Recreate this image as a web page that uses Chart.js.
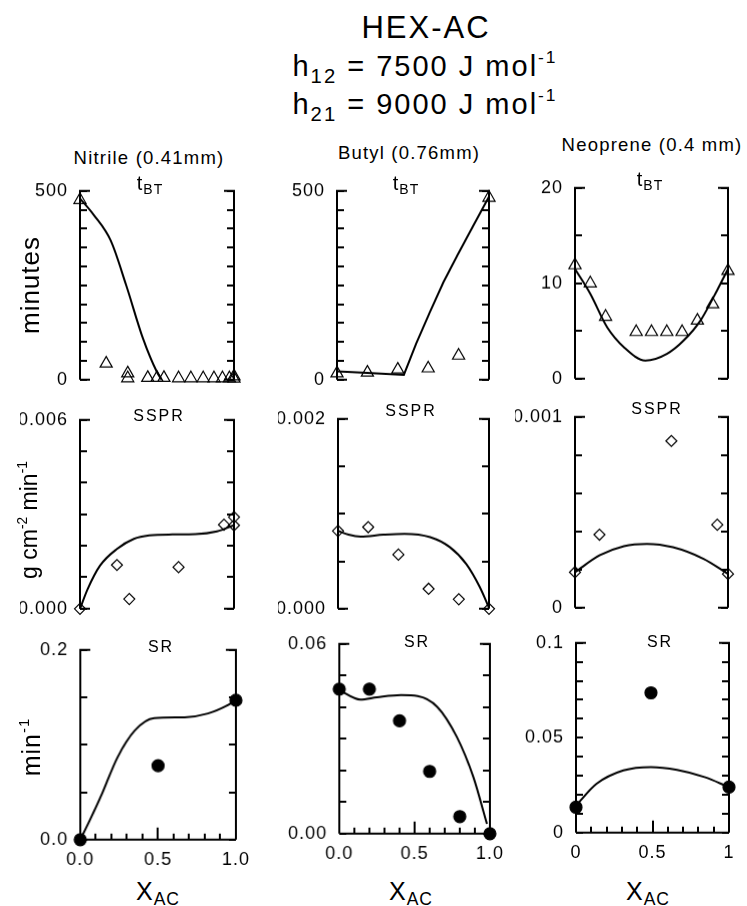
<!DOCTYPE html>
<html>
<head>
<meta charset="utf-8">
<title>HEX-AC</title>
<script src="https://cdn.jsdelivr.net/npm/chart.js@4.4.1/dist/chart.umd.min.js"></script>
<style>
  body { margin: 0; background: #fff; width: 747px; height: 906px; position: relative; overflow: hidden;
         font-family: "Liberation Sans", Arial, Helvetica, sans-serif; color: #000; }
  canvas { position: absolute; }
  .txt { position: absolute; white-space: nowrap; line-height: 1; transform: translateX(-50%); }
  .rot { position: absolute; white-space: nowrap; line-height: 1; transform: translate(-50%, -50%) rotate(-90deg); }
  .sub { font-size: 0.7em; position: relative; top: 0.3em; }
  .sup { font-size: 0.6em; position: relative; top: -0.75em; }
</style>
</head>
<body>
<script>
// ---- data (x = mole fraction of acetone) ----

// Nitrile (0.41 mm)
const nitTbtX = [0, 0.17, 0.31, 0.31, 0.44, 0.50, 0.545, 0.64, 0.72, 0.80, 0.87, 0.925, 0.97, 1.0, 1.0];
const nitTbtY = [476, 43, 17, 4, 5, 5, 5, 4, 4, 4, 4, 4, 4, 9, 3];
const nitTbtFitX = [0, 0.09, 0.2, 0.3, 0.41, 0.5, 0.53];
const nitTbtFitY = [480, 436, 368, 250, 108, 20, 0];

const nitSsprX = [0, 0.24, 0.32, 0.64, 0.935, 1.0, 1.0];
const nitSsprY = [0, 0.00139, 0.00031, 0.00132, 0.00267, 0.00291, 0.00265];
const nitSsprFitX = [0, 0.05, 0.13, 0.24, 0.35, 0.45, 0.6, 0.75, 0.89, 1.0];
const nitSsprFitY = [0, 0.00063, 0.00137, 0.0019, 0.00222, 0.00233, 0.00236, 0.00237, 0.00246, 0.00265];

const nitSrX = [0, 0.5, 1.0];
const nitSrY = [0, 0.078, 0.147];
const nitSrFitX = [0, 0.06, 0.13, 0.24, 0.35, 0.475, 0.67, 0.82, 0.95, 1.0];
const nitSrFitY = [0, 0.02, 0.0448, 0.087, 0.115, 0.128, 0.129, 0.133, 0.142, 0.147];

// Butyl (0.76 mm)
const butTbtX = [0, 0.2, 0.4, 0.6, 0.8, 1.0];
const butTbtY = [17, 19, 27, 30, 64, 482];
const butTbtFitX = [0, 0.2, 0.44, 0.52, 0.61, 0.7, 0.79, 0.875, 1.0];
const butTbtFitY = [22, 18, 13, 95, 178, 258, 328, 392, 485];

const butSsprX = [0, 0.2, 0.4, 0.6, 0.8, 1.0];
const butSsprY = [0.00082, 0.00086, 0.00057, 0.00021, 0.0001, 0];
const butSsprFitX = [0, 0.07, 0.15, 0.3, 0.44, 0.61, 0.74, 0.85, 0.94, 1.0];
const butSsprFitY = [0.00082, 0.00078, 0.00076, 0.00078, 0.00079, 0.000755, 0.00065, 0.00047, 0.000225, 0.00001];

const butSrX = [0, 0.2, 0.4, 0.6, 0.8, 1.0];
const butSrY = [0.0457, 0.0457, 0.0357, 0.0197, 0.0054, 0];
const butSrFitX = [0, 0.14, 0.25, 0.41, 0.52, 0.65, 0.78, 0.89, 0.98];
const butSrFitY = [0.0454, 0.0424, 0.0431, 0.0438, 0.0435, 0.0401, 0.0306, 0.0179, 0.0031];

// Neoprene (0.4 mm)
const neoTbtX = [0, 0.1, 0.2, 0.4, 0.5, 0.6, 0.7, 0.8, 0.9, 1.0];
const neoTbtY = [11.9, 10.0, 6.5, 4.9, 4.9, 4.9, 4.9, 6.1, 7.8, 11.3];
const neoTbtFitX = [0, 0.1, 0.21, 0.32, 0.46, 0.6, 0.71, 0.82, 0.93, 1.0];
const neoTbtFitY = [11.5, 8.9, 5.4, 3.3, 1.9, 2.6, 4.0, 6.1, 9.3, 11.5];

const neoSsprX = [0, 0.16, 0.63, 0.93, 1.0];
const neoSsprY = [0.000186, 0.000383, 0.000874, 0.000435, 0.000177];
const neoSsprFitX = [0, 0.16, 0.32, 0.47, 0.64, 0.84, 1.0];
const neoSsprFitY = [0.000186, 0.000274, 0.000323, 0.000335, 0.000317, 0.000256, 0.000177];

const neoSrX = [0, 0.49, 1.0];
const neoSrY = [0.0134, 0.0737, 0.024];
const neoSrFitX = [0, 0.135, 0.31, 0.49, 0.66, 0.84, 1.0];
const neoSrFitY = [0.0143, 0.0258, 0.0328, 0.0346, 0.0331, 0.0293, 0.024];

// tick labels
const xTickVals = [0, 0.5, 1];
const xTickText = ['0.0', '0.5', '1.0'];
const neoXTickText = ['0', '0.5', '1'];

const tbtTickVals = [0, 500];
const tbtTickText = ['0', '500'];
const neoTbtTickVals = [0, 10, 20];
const neoTbtTickText = ['0', '10', '20'];
const nitSsprTickVals = [0, 0.006];
const nitSsprTickText = ['0.000', '0.006'];
const butSsprTickVals = [0, 0.002];
const butSsprTickText = ['0.000', '0.002'];
const neoSsprTickVals = [0, 0.001];
const neoSsprTickText = ['0', '0.001'];
const nitSrTickVals = [0, 0.2];
const nitSrTickText = ['0.0', '0.2'];
const butSrTickVals = [0, 0.06];
const butSrTickText = ['0.00', '0.06'];
const neoSrTickVals = [0, 0.05, 0.1];
const neoSrTickText = ['0', '0.05', '0.1'];

// ---- panels: plot box on the page [left, top, right, bottom] ----
const panels = [
  { row: 0, box: [80, 191, 234, 379], px: nitTbtX, py: nitTbtY, fx: nitTbtFitX, fy: nitTbtFitY, yMax: 500, yStep: 50, yVals: tbtTickVals, yText: tbtTickText, mark: 'triangle' },
  { row: 0, box: [337, 191, 489, 379], px: butTbtX, py: butTbtY, fx: butTbtFitX, fy: butTbtFitY, yMax: 500, yStep: 50, yVals: tbtTickVals, yText: tbtTickText, mark: 'triangle', straight: true },
  { row: 0, box: [575, 188, 728, 378], px: neoTbtX, py: neoTbtY, fx: neoTbtFitX, fy: neoTbtFitY, yMax: 20, yStep: 5, yVals: neoTbtTickVals, yText: neoTbtTickText, mark: 'triangle' },
  { row: 1, box: [80, 420, 234, 608], px: nitSsprX, py: nitSsprY, fx: nitSsprFitX, fy: nitSsprFitY, yMax: 0.006, yStep: 0.001, yVals: nitSsprTickVals, yText: nitSsprTickText, mark: 'rectRot' },
  { row: 1, box: [338, 419, 489, 608], px: butSsprX, py: butSsprY, fx: butSsprFitX, fy: butSsprFitY, yMax: 0.002, yStep: 0.0005, yVals: butSsprTickVals, yText: butSsprTickText, mark: 'rectRot' },
  { row: 1, box: [575, 417, 728, 607], px: neoSsprX, py: neoSsprY, fx: neoSsprFitX, fy: neoSsprFitY, yMax: 0.001, yStep: 0.0002, yVals: neoSsprTickVals, yText: neoSsprTickText, mark: 'rectRot' },
  { row: 2, box: [80, 650, 235, 839], px: nitSrX, py: nitSrY, fx: nitSrFitX, fy: nitSrFitY, yMax: 0.2, yStep: 0.05, yVals: nitSrTickVals, yText: nitSrTickText, mark: 'circle', xText: xTickText },
  { row: 2, box: [339, 644, 489, 833], px: butSrX, py: butSrY, fx: butSrFitX, fy: butSrFitY, yMax: 0.06, yStep: 0.01, yVals: butSrTickVals, yText: butSrTickText, mark: 'circle', xText: xTickText },
  { row: 2, box: [576, 643, 729, 832], px: neoSrX, py: neoSrY, fx: neoSrFitX, fy: neoSrFitY, yMax: 0.1, yStep: 0.01, yVals: neoSrTickVals, yText: neoSrTickText, mark: 'circle', xText: neoXTickText }
];

const tickFont = { family: "'Liberation Sans', Arial, sans-serif", size: 18 };

function labelFor(v, vals, text) {
  const i = vals.findIndex(t => Math.abs(t - v) < 1e-9);
  return i < 0 ? '' : text[i];
}

// open-bracket frame with inward ticks, like the original plots
const frame = {
  id: 'frame',
  beforeDraw(chart) {
    chart.ctx.letterSpacing = '1px';
  },
  beforeDatasetsDraw(chart) {
    const { ctx, chartArea: a, scales: { x, y } } = chart;
    const stub = 10, tick = 7;
    const full = x.options.display;
    ctx.save();
    ctx.strokeStyle = '#000';
    ctx.lineWidth = 2;
    ctx.beginPath();
    ctx.moveTo(a.left + stub, a.top); ctx.lineTo(a.left, a.top); ctx.lineTo(a.left, a.bottom);
    ctx.moveTo(a.right - stub, a.top); ctx.lineTo(a.right, a.top); ctx.lineTo(a.right, a.bottom);
    if (full) {
      ctx.moveTo(a.left, a.bottom); ctx.lineTo(a.right, a.bottom);
    } else {
      ctx.moveTo(a.left, a.bottom); ctx.lineTo(a.left + stub, a.bottom);
      ctx.moveTo(a.right, a.bottom); ctx.lineTo(a.right - stub, a.bottom);
    }
    y.ticks.forEach(t => {
      const py = Math.round(y.getPixelForValue(t.value));
      ctx.moveTo(a.left, py); ctx.lineTo(a.left + tick, py);
      ctx.moveTo(a.right, py); ctx.lineTo(a.right - tick, py);
    });
    if (full) {
      x.ticks.forEach(t => {
        const px = Math.round(x.getPixelForValue(t.value));
        const len = Math.abs(t.value - 0.5) < 1e-6 ? 12 : 6;
        ctx.moveTo(px, a.bottom); ctx.lineTo(px, a.bottom - len);
      });
    }
    ctx.stroke();
    ctx.restore();
  }
};

function makePanel(p) {
  const [L, T, R, B] = p.box;
  const bottomRow = p.row === 2;
  const padTop = 14, padRight = 18, padBottom = bottomRow ? 0 : 14, yW = 60, xH = 36;
  const w = R - L + yW + padRight;
  const h = B - T + padTop + (bottomRow ? xH : padBottom);
  const cv = document.createElement('canvas');
  cv.width = w; cv.height = h;
  cv.style.width = w + 'px';
  cv.style.height = h + 'px';
  document.body.appendChild(cv);

  const pts = p.px.map((x, i) => ({ x, y: p.py[i] }));
  const fit = p.fx.map((x, i) => ({ x, y: p.fy[i] }));
  const filled = p.mark === 'circle';

  const xScale = {
    type: 'linear', min: 0, max: 1, display: bottomRow,
    border: { display: false }, grid: { display: false, drawTicks: false },
    ticks: { stepSize: 0.1, autoSkip: false, maxRotation: 0, padding: 9, color: '#000', font: tickFont,
             callback: v => bottomRow ? labelFor(v, xTickVals, p.xText) : '' }
  };
  if (bottomRow) xScale.afterFit = s => { s.height = xH; };

  const chart = new Chart(cv, {
    type: 'scatter',
    data: {
      datasets: [
        { data: fit, showLine: true, borderColor: '#000', borderWidth: 2, pointRadius: 0,
          cubicInterpolationMode: p.straight ? 'default' : 'monotone', tension: 0, clip: false },
        { data: pts, pointStyle: p.mark, pointRadius: p.mark === 'triangle' ? 7 : (filled ? 6 : 5.5),
          borderColor: '#000', backgroundColor: filled ? '#000' : 'rgba(0,0,0,0)',
          pointBorderWidth: 1.2, showLine: false, clip: false }
      ]
    },
    options: {
      responsive: false,
      maintainAspectRatio: false,
      animation: false,
      devicePixelRatio: 1,
      layout: { padding: { left: 0, top: padTop, right: padRight, bottom: padBottom } },
      plugins: { legend: { display: false }, tooltip: { enabled: false } },
      scales: {
        x: xScale,
        y: {
          min: 0, max: p.yMax,
          border: { display: false }, grid: { display: false, drawTicks: false },
          ticks: { stepSize: p.yStep, autoSkip: false, padding: 12, color: '#000', font: tickFont,
                   callback: v => labelFor(v, p.yVals, p.yText) },
          afterFit: s => { s.width = yW; }
        }
      }
    },
    plugins: [frame]
  });

  let a = chart.chartArea;
  const dw = (R - L) - (a.right - a.left);
  const dh = (B - T) - (a.bottom - a.top);
  if (Math.abs(dw) > 0.5 || Math.abs(dh) > 0.5) {
    chart.resize(w + dw, h + dh);
    a = chart.chartArea;
  }
  cv.style.left = (L - a.left) + 'px';
  cv.style.top = (T - a.top) + 'px';
}

panels.forEach(makePanel);

// ---- text ----
function put(html, cx, baseline, size, spacing) {
  const d = document.createElement('div');
  d.className = 'txt';
  d.innerHTML = html;
  d.style.fontSize = size + 'px';
  d.style.letterSpacing = (spacing || 0) + 'px';
  d.style.left = cx + 'px';
  d.style.top = (baseline - 0.8465 * size) + 'px';
  document.body.appendChild(d);
}
function putRot(html, cx, cy, size, spacing) {
  const d = document.createElement('div');
  d.className = 'rot';
  d.innerHTML = html;
  d.style.fontSize = size + 'px';
  d.style.letterSpacing = (spacing || 0) + 'px';
  d.style.left = cx + 'px';
  d.style.top = cy + 'px';
  document.body.appendChild(d);
}

put('HEX-AC', 426, 38, 31, 2);
put('h<span class="sub">12</span> = 7500 J mol<span class="sup">-1</span>', 425, 77, 29, 2);
put('h<span class="sub">21</span> = 9000 J mol<span class="sup">-1</span>', 425, 115, 29, 2);

put('Nitrile (0.41mm)', 149, 165, 18.5, 1.2);
put('Butyl (0.76mm)', 409, 160, 18.5, 1.2);
put('Neoprene (0.4 mm)', 652, 152, 18.5, 1.2);

put('t<span class="sub">BT</span>', 150, 190, 20, 1);
put('t<span class="sub">BT</span>', 406, 190, 20, 1);
put('t<span class="sub">BT</span>', 650, 186, 20, 1);

put('SSPR', 159, 422, 16, 2);
put('SSPR', 411, 417, 16, 2);
put('SSPR', 657, 415, 16, 2);

put('SR', 161, 653, 16, 2);
put('SR', 417, 648, 16, 2);
put('SR', 660, 648, 16, 2);

putRot('minutes', 30, 285, 26, 1);
putRot('g cm<span class="sup">-2</span> min<span class="sup">-1</span>', 29, 520, 23, 0);
putRot('min<span class="sup">-1</span>', 31, 747, 25, 1);

put('X<span class="sub">AC</span>', 158, 900, 25, 1);
put('X<span class="sub">AC</span>', 411, 900, 25, 1);
put('X<span class="sub">AC</span>', 648, 900, 25, 1);
</script>
</body>
</html>
